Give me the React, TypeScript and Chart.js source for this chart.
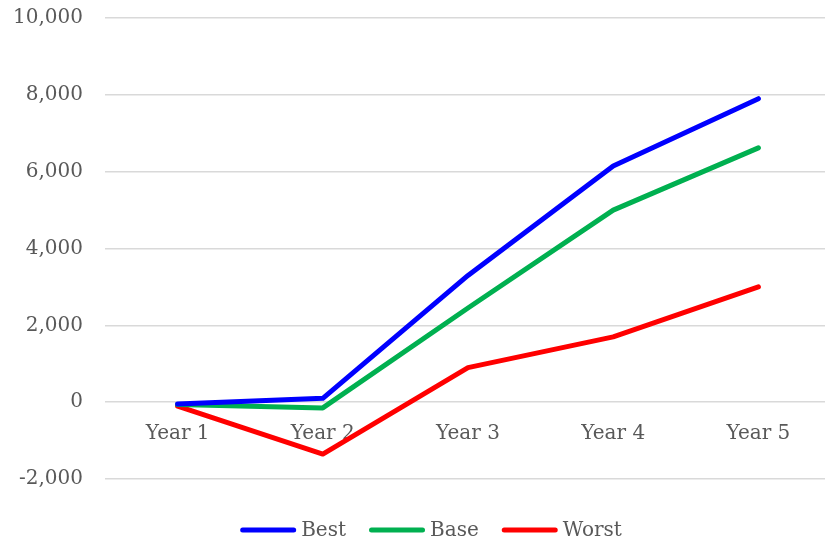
import React, { useEffect, useRef } from "react";
import { Chart, registerables } from "chart.js";

Chart.register(...registerables);

const categories = ["Year 1", "Year 2", "Year 3", "Year 4", "Year 5"];
const bestValues = [-50, 100, 3300, 6150, 7900];
const baseValues = [-60, -150, 2450, 5000, 6620];
const worstValues = [-100, -1350, 900, 1700, 3000];
const seriesNames = ["Best", "Base", "Worst"];
const seriesColors = ["#0000FF", "#00B050", "#FF0000"];

const FONT_FAMILY = "'DejaVu Serif', serif";
const FONT_SIZE = 20;
const TEXT = "#595959";

const lineLegend = {
  id: "lineLegend",
  afterDraw(chart: any) {
    const ctx = chart.ctx as CanvasRenderingContext2D;
    const sets = chart.data.datasets;
    const lineLen = 56;
    const gap = 5;
    const spacing = 23;
    ctx.save();
    ctx.font = `${FONT_SIZE}px ${FONT_FAMILY}`;
    const widths = sets.map((d: any) => lineLen + gap + ctx.measureText(d.label).width);
    const total = widths.reduce((a: number, b: number) => a + b, 0) + spacing * (sets.length - 1);
    let x = 431 - total / 2;
    const y = 530;
    sets.forEach((d: any, i: number) => {
      ctx.strokeStyle = d.borderColor;
      ctx.lineWidth = 5;
      ctx.lineCap = "round";
      ctx.beginPath();
      ctx.moveTo(x + 2.5, y);
      ctx.lineTo(x + lineLen - 2.5, y);
      ctx.stroke();
      ctx.fillStyle = TEXT;
      ctx.textBaseline = "middle";
      ctx.textAlign = "left";
      ctx.fillText(d.label, x + lineLen + gap, y + 1);
      x += widths[i] + spacing;
    });
    ctx.restore();
  },
};

export default function App() {
  const ref = useRef<HTMLCanvasElement | null>(null);
  useEffect(() => {
    document.body.style.margin = "0";
    document.body.style.overflow = "hidden";
    const font = { family: FONT_FAMILY, size: FONT_SIZE };
    const series = [bestValues, baseValues, worstValues];
    const chart = new Chart(ref.current as HTMLCanvasElement, {
      type: "line",
      data: {
        labels: categories,
        datasets: series.map((d, i) => ({
          label: seriesNames[i],
          data: d,
          borderColor: seriesColors[i],
          backgroundColor: seriesColors[i],
          borderWidth: 5,
          borderCapStyle: "round",
          borderJoinStyle: "round",
          pointRadius: 0,
          tension: 0,
        })),
      },
      options: {
        animation: false,
        responsive: false,
        layout: { padding: { top: 18, right: 4, bottom: 63, left: 0 } },
        plugins: {
          tooltip: { enabled: false },
          legend: { display: false },
        },
        scales: {
          x: {
            position: { y: 0 } as any,
            offset: true,
            grid: { display: false, drawTicks: false },
            border: { display: false },
            ticks: { color: TEXT, font, padding: 20 },
            afterFit: (s: any) => {
              s.paddingTop = 0;
              s.paddingBottom = 0;
            },
          },
          y: {
            min: -2000,
            max: 10000,
            afterFit: (s: any) => {
              s.width = 105;
              s.paddingTop = 0;
              s.paddingBottom = 0;
            },
            ticks: {
              stepSize: 2000,
              color: TEXT,
              font,
              padding: 22,
              callback: (v: any) => Number(v).toLocaleString("en-US"),
            },
            grid: { color: "#d9d9d9", lineWidth: 1.5, drawTicks: false },
            border: { display: false },
          },
        },
      },
      plugins: [lineLegend],
    });
    return () => chart.destroy();
  }, []);
  return (
    <div style={{ position: "fixed", left: 0, top: 0, width: 835, height: 542 }}>
      <canvas ref={ref} width={835} height={542} />
    </div>
  );
}
